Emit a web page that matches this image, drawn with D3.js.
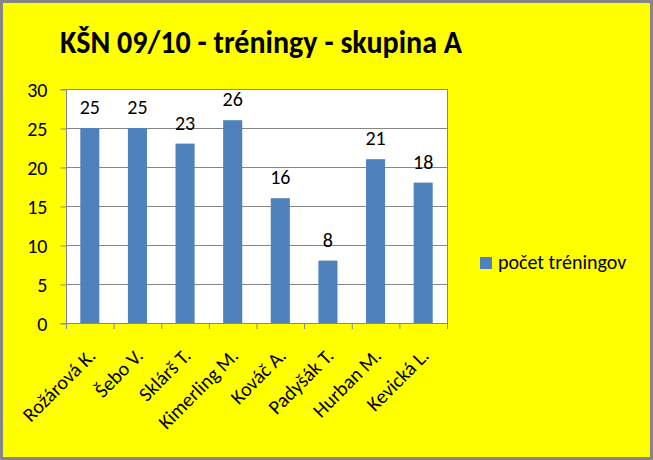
<!DOCTYPE html>
<html><head><meta charset="utf-8">
<script src="https://cdn.jsdelivr.net/npm/d3@7"></script>
<style>html,body{margin:0;padding:0;background:#fff}</style>
</head><body><svg id="c" width="653" height="460"></svg>
<script>
const categories = ["Rožárová K.","Šebo V.","Sklárš T.","Kimerling M.","Kováč A.","Padyšák T.","Hurban M.","Kevická L."];
const values = [25,25,23,26,16,8,21,18];
const yTicks = [0,5,10,15,20,25,30];
const seriesName = "počet tréningov";
const titleText = "KŠN 09/10 - tréningy - skupina A";

const svg = d3.select("#c");
const font = "Carlito, Calibri, 'Open Sans', sans-serif";
const fs = 20;
svg.append("rect").attr("x",1.5).attr("y",1.5).attr("width",650).attr("height",457)
  .attr("fill","#FFFF00").attr("stroke","#868686").attr("stroke-width",3);

const m = {l:66, r:447, t:89, b:323};
const x = d3.scaleBand().domain(categories).range([m.l,m.r]).paddingInner(0.6).paddingOuter(0.3);
const xb = d3.scaleBand().domain(categories).range([m.l,m.r]);
const y = d3.scaleLinear().domain([0,30]).range([m.b,m.t]);

svg.append("rect").attr("x",m.l).attr("y",m.t).attr("width",m.r-m.l).attr("height",m.b-m.t).attr("fill","#fff");

svg.append("text").attr("x",261).attr("y",53).attr("text-anchor","middle")
  .attr("font-family",font).attr("font-weight","bold").attr("font-size",32)
  .attr("textLength",402).attr("lengthAdjust","spacingAndGlyphs").text(titleText);

// grid
svg.append("g").selectAll("line").data(yTicks.filter(d=>d>0)).join("line")
  .attr("x1",m.l).attr("x2",m.r).attr("y1",d=>y(d)+0.5).attr("y2",d=>y(d)+0.5)
  .attr("stroke","#878787").attr("stroke-width",1);
svg.append("line").attr("x1",m.r+0.5).attr("x2",m.r+0.5).attr("y1",m.t).attr("y2",m.b).attr("stroke","#878787");

// y axis
const ya = svg.append("g").attr("transform",`translate(${m.l+0.5},0.5)`)
  .call(d3.axisLeft(y).tickValues(yTicks).tickSize(6).tickPadding(13));
ya.select(".domain").attr("stroke","#878787").attr("d",`M-6,${y(30)}H0V${y(0)}H-6`);
ya.selectAll(".tick line").attr("stroke","#878787");
ya.selectAll("text").attr("font-family",font).attr("font-size",fs).attr("fill","#000").attr("dy","0.33em");

// bars
svg.append("g").selectAll("rect").data(values).join("rect")
  .attr("x",(d,i)=>x(categories[i])).attr("width",x.bandwidth())
  .attr("y",d=>y(d)).attr("height",d=>y(0)-y(d)).attr("fill","#4F81BD");

// value labels
svg.append("g").selectAll("text").data(values).join("text")
  .attr("x",(d,i)=>x(categories[i])+x.bandwidth()/2).attr("y",d=>y(d)-14)
  .attr("text-anchor","middle").attr("font-family",font).attr("font-size",fs).text(d=>d);

// x axis
svg.append("line").attr("x1",m.l).attr("x2",m.r+1).attr("y1",m.b+0.5).attr("y2",m.b+0.5).attr("stroke","#878787");
svg.append("g").selectAll("line").data(d3.range(categories.length+1)).join("line")
  .attr("x1",i=>m.l+i*xb.step()+0.5).attr("x2",i=>m.l+i*xb.step()+0.5)
  .attr("y1",m.b).attr("y2",m.b+6).attr("stroke","#878787");

svg.append("g").selectAll("text").data(categories).join("text")
  .attr("transform",d=>`translate(${xb(d)+xb.bandwidth()/2+7},${m.b+34}) rotate(-45)`)
  .attr("text-anchor","end").attr("font-family",font).attr("font-size",fs).text(d=>d);

// legend
svg.append("rect").attr("x",480).attr("y",257).attr("width",12).attr("height",12).attr("fill","#4F81BD");
svg.append("text").attr("x",498).attr("y",269).attr("font-family",font).attr("font-size",fs).text(seriesName);
</script></body></html>
